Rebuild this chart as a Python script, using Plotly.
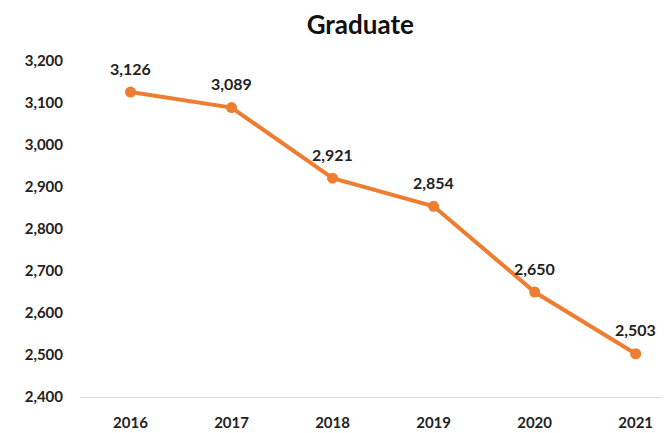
import plotly.graph_objects as go

# Graduate counts per year
years = ["2016", "2017", "2018", "2019", "2020", "2021"]
graduates = [3126, 3089, 2921, 2854, 2650, 2503]
y_ticks = [2400, 2500, 2600, 2700, 2800, 2900, 3000, 3100, 3200]

fig = go.Figure()

fig.add_trace(go.Scatter(
    x=years,
    y=graduates,
    mode='lines+markers',
    line=dict(color='#ED7D31', width=4),
    marker=dict(color='#ED7D31', size=11),
    cliponaxis=False,
    showlegend=False
))

# data labels above each point (category index, since year strings look numeric)
for i, v in enumerate(graduates):
    fig.add_annotation(
        x=i, y=v, xref='x', yref='y', text=f"{v:,}", showarrow=False, yshift=24,
        font=dict(family='Lato', size=16, color='#222222', weight='bold')
    )

# page body has an 8px margin, so the figure is sized to end at the window edge
fig.update_layout(
    title=dict(text='<b>Graduate</b>', x=0.533, xanchor='center', y=0.96, yanchor='middle',
               font=dict(family='Lato', size=26, color='#111111')),
    width=661,
    height=425,
    margin=dict(l=72, r=0, t=53, b=36),
    plot_bgcolor='white',
    paper_bgcolor='white',
    font=dict(family='Lato', color='#222222'),
    xaxis=dict(
        type='category',
        range=[-0.5, 5.33],
        showgrid=False,
        showline=True,
        linecolor='#D9D9D9',
        linewidth=1,
        ticks='',
        ticklabelstandoff=12,
        tickfont=dict(family='Lato', size=15, weight='bold', color='#222222'),
        zeroline=False
    ),
    yaxis=dict(
        range=[2400, 3200],
        tickvals=y_ticks,
        ticktext=[f"{v:,}" for v in y_ticks],
        showgrid=False,
        showline=False,
        zeroline=False,
        ticks='',
        ticklabelstandoff=16,
        tickfont=dict(family='Lato', size=15, weight='bold', color='#222222')
    )
)

fig.write_html("out.html")
